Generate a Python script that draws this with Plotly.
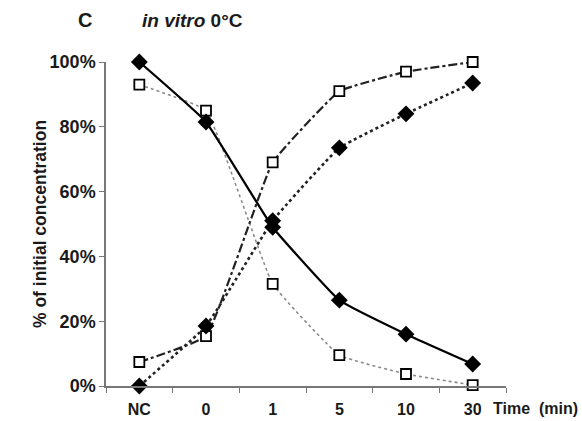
import plotly.graph_objects as go

# Time points (categories) and the four series, % of initial concentration
time_labels = ["NC", "0", "1", "5", "10", "30"]
solid_diamond = [1.00, 0.815, 0.49, 0.265, 0.16, 0.068]
dotted_diamond = [0.0, 0.185, 0.51, 0.735, 0.84, 0.935]
gray_square = [0.93, 0.85, 0.315, 0.095, 0.037, 0.003]
dashdot_square = [0.074, 0.154, 0.69, 0.91, 0.97, 1.0]

FONT = "Arial, Liberation Sans, sans-serif"
INK = "#1a1a1a"

diamond = dict(symbol="diamond", size=13, color="black", line=dict(width=0))
square = dict(symbol="square", size=10, color="white", line=dict(width=1.8, color="black"))

fig = go.Figure()
fig.add_trace(go.Scatter(x=time_labels, y=gray_square, mode="lines+markers", cliponaxis=False,
                         line=dict(color="#8a8a8a", width=1.6, dash="dot", shape="spline", smoothing=0.3),
                         marker=square))
fig.add_trace(go.Scatter(x=time_labels, y=dashdot_square, mode="lines+markers", cliponaxis=False,
                         line=dict(color="#222", width=2.2, dash="dashdot", shape="spline", smoothing=0.3),
                         marker=square))
fig.add_trace(go.Scatter(x=time_labels, y=dotted_diamond, mode="lines+markers", cliponaxis=False,
                         line=dict(color="#222", width=2.6, dash="dot", shape="spline", smoothing=0.3),
                         marker=diamond))
fig.add_trace(go.Scatter(x=time_labels, y=solid_diamond, mode="lines+markers", cliponaxis=False,
                         line=dict(color="black", width=2.2, shape="spline", smoothing=0.3),
                         marker=diamond))

fig.update_layout(
    width=582, height=421,
    margin=dict(l=106, r=76, t=62, b=35),
    paper_bgcolor="white", plot_bgcolor="white",
    showlegend=False,
    font=dict(family=FONT, color=INK),
    xaxis=dict(type="category", range=[-0.5, 5.5], tickson="boundaries", automargin=False,
               showline=True, linecolor="#777", linewidth=1.5,
               ticks="outside", ticklen=5, tickcolor="#777", showgrid=False,
               tickfont=dict(size=16, family=FONT, color=INK, weight="bold"),
               ticklabelstandoff=8),
    yaxis=dict(range=[0, 1], tickvals=[0, 0.2, 0.4, 0.6, 0.8, 1.0], automargin=False,
               tickformat=".0%", showline=True, linecolor="#777", linewidth=1.5,
               ticks="outside", ticklen=5, tickcolor="#777", showgrid=False, zeroline=False,
               tickfont=dict(size=18, family=FONT, color=INK, weight="bold")),
    annotations=[
        dict(text="<b>C</b>", x=(85 - 106) / 400, y=(386 - 20) / 324, xref="paper", yref="paper",
             xanchor="center", yanchor="middle", showarrow=False,
             font=dict(size=20, family=FONT, color=INK)),
        dict(text="<b><i>in vitro</i> 0°C</b>", x=(140 - 106) / 400, y=(386 - 20) / 324,
             xref="paper", yref="paper", xanchor="left", yanchor="middle", showarrow=False,
             font=dict(size=19, family=FONT, color=INK)),
        dict(text="<b>% of initial concentration</b>", x=(40 - 106) / 400, y=0.5,
             xref="paper", yref="paper", xanchor="center", yanchor="middle", textangle=-90,
             showarrow=False, font=dict(size=17.5, family=FONT, color=INK)),
        dict(text="<b>Time  (min)</b>", x=(491 - 106) / 400, y=(386 - 408) / 324,
             xref="paper", yref="paper", xanchor="left", yanchor="middle",
             showarrow=False, font=dict(size=16, family=FONT, color=INK)),
    ],
)

fig.write_html("out.html", config={"displayModeBar": False},
               post_script="document.body.style.margin='0';")
